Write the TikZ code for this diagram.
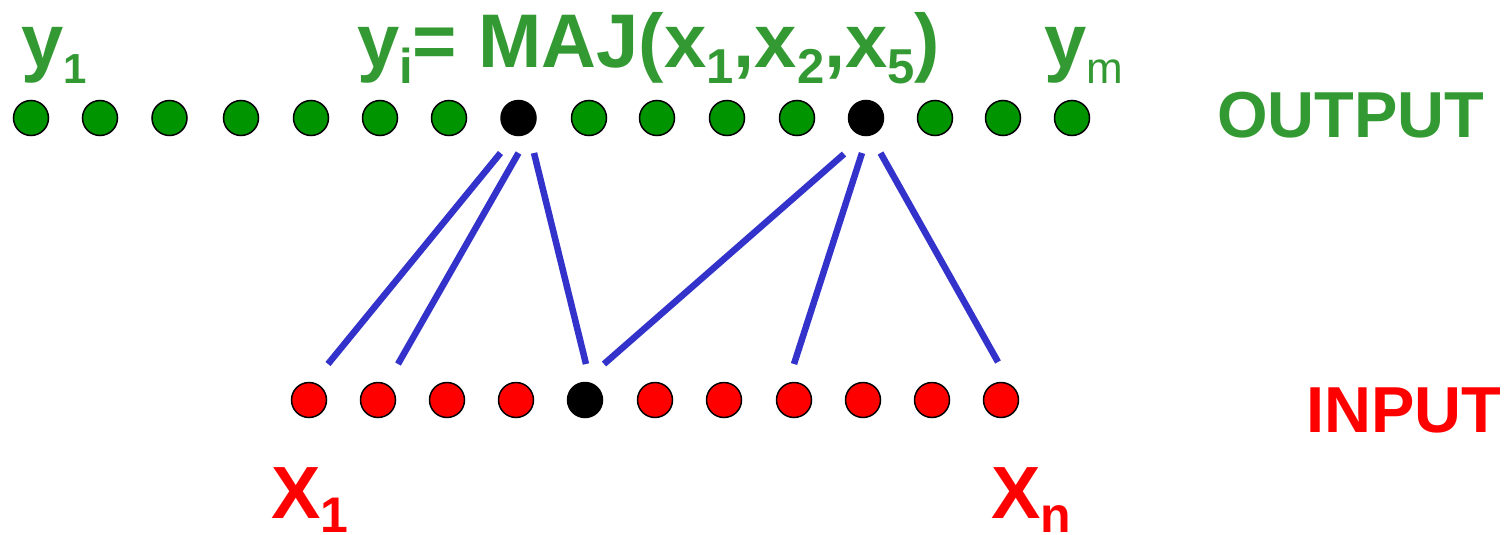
\documentclass[tikz,border=0pt]{standalone}
\usepackage{fontspec}
\setmainfont{Liberation Sans}
\definecolor{txtgreen}{RGB}{51,153,51}
\definecolor{dotgreen}{RGB}{0,148,0}
\definecolor{linkblue}{RGB}{51,51,204}
\definecolor{inred}{RGB}{255,0,0}
\newcommand{\fsz}[1]{\fontsize{#1}{#1}\selectfont}
\begin{document}
\begin{tikzpicture}[x=1pt,y=-1pt,
  dot/.style={circle,draw=black,line width=1.5pt,minimum size=35pt,inner sep=0pt},
  outdot/.style={dot,fill=dotgreen},
  indot/.style={dot,fill=inred},
  selected/.style={dot,fill=black},
  link/.style={draw=linkblue,line width=6.5pt},
  lbl/.style={inner sep=0pt,outer sep=0pt,anchor=base west,font=\bfseries\fsz{76}}]
\useasboundingbox (0,0) rectangle (1512,535);
% output row
\foreach \x/\s [count=\i] in {31/outdot,100/outdot,169.5/outdot,241/outdot,311/outdot,380/outdot,449/outdot,518.5/selected,589/outdot,657/outdot,727/outdot,797/outdot,866/selected,935/outdot,1003/outdot,1072/outdot}
  \node[\s] (o\i) at (\x,118) {};
% input row
\foreach \x/\s [count=\i] in {309/indot,378/indot,447/indot,516/indot,585/selected,655/indot,724/indot,794/indot,863/indot,932/indot,1001/indot}
  \node[\s] (i\i) at (\x,400) {};
% connectors
\draw[link] ([shift={(-18,35)}]o8.center) -- ([shift={(19,-36)}]i1.center);
\draw[link] ([shift={(0,35)}]o8.center) -- ([shift={(20,-36)}]i2.center);
\draw[link] ([shift={(15.5,35)}]o8.center) -- ([shift={(1,-36)}]i5.center);
\draw[link] ([shift={(-22,36)}]o13.center) -- ([shift={(19,-36)}]i5.center);
\draw[link] ([shift={(-4,35)}]o13.center) -- ([shift={(0,-36)}]i8.center);
\draw[link] ([shift={(14.5,35)}]o13.center) -- ([shift={(-3,-38)}]i11.center);
% labels
\node[lbl,text=txtgreen] (y1) at (21,67) {y\raisebox{-16pt}{\fsz{42}1}};
\node[lbl,text=txtgreen] (title) at (357,67) {y\raisebox{-16pt}{\fsz{49}i}= MAJ(x\raisebox{-16pt}{\fsz{49}1},x\raisebox{-16pt}{\fsz{49}2},x\raisebox{-16pt}{\fsz{49}5})};
\node[lbl,text=txtgreen] (ym) at (1044,67) {y\raisebox{-16pt}{\mdseries\fsz{44}m}};
\node[lbl,text=txtgreen,font=\bfseries\fsz{65}] (outlbl) at (1217,137) {OUTPUT};
\node[lbl,text=inred,font=\bfseries\fsz{65}] (inlbl) at (1306,432) {INPUT};
\node[lbl,text=inred,font=\bfseries\fsz{74}] (x1) at (271,518) {X\raisebox{-14pt}{\fsz{50}1}};
\node[lbl,text=inred,font=\bfseries\fsz{74}] (xn) at (991,518) {X\raisebox{-14pt}{\fsz{50}n}};
\end{tikzpicture}
\end{document}
